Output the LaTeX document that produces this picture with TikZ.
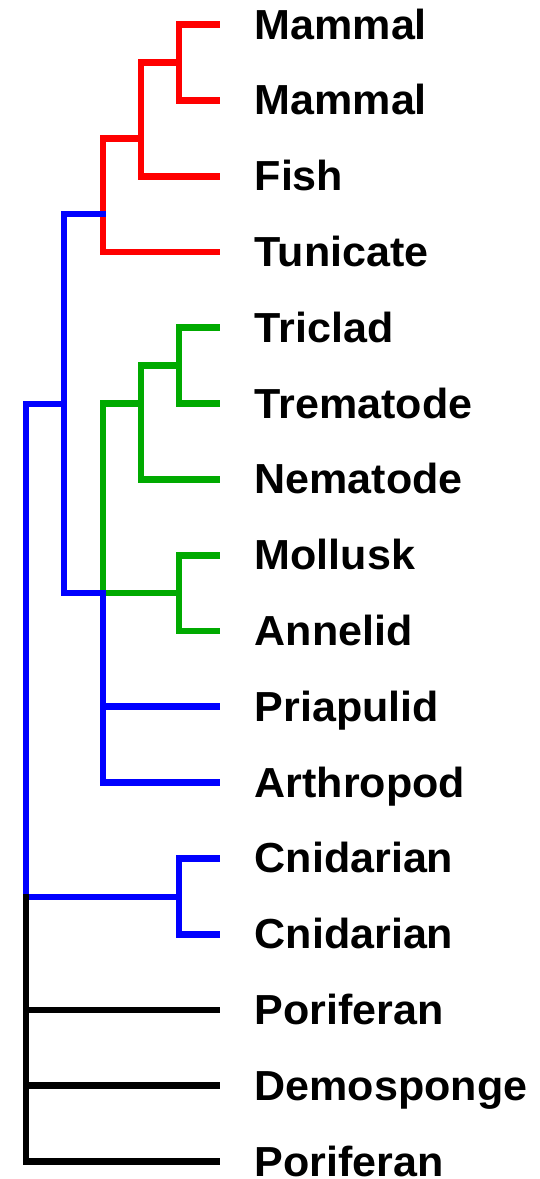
\documentclass[tikz,border=0pt]{standalone}
\usepackage{fontspec}
\newfontfamily\taxonfont{Liberation Sans}[FakeStretch=1.025]
\definecolor{cladeRed}{RGB}{255,0,0}
\definecolor{cladeGreen}{RGB}{0,170,0}
\definecolor{cladeBlue}{RGB}{0,0,255}
\tikzset{
  branch/.style={line width=6.8pt, line cap=rect, line join=miter},
  taxon/.style={anchor=base west, inner sep=0pt, font=\taxonfont\bfseries\fontsize{42}{46}\selectfont},
}
\begin{document}
\begin{tikzpicture}[x=1pt, y=1pt]
\useasboundingbox (0,0) rectangle (540,-1179);

% leaf tips and labels
\foreach \i/\name in {1/Mammal,2/Mammal,3/Fish,4/Tunicate,5/Triclad,6/Trematode,
  7/Nematode,8/Mollusk,9/Annelid,10/Priapulid,11/Arthropod,12/Cnidarian,
  13/Cnidarian,14/Poriferan,15/Demosponge,16/Poriferan}{
  \pgfmathsetmacro{\yy}{24.5+75.8*(\i-1)}
  \coordinate (t\i) at (216.5,-\yy);
  \node[taxon] (n\i) at (254.5,-\yy-14.5) {\name};
}

% internal nodes (attachment points)
\coordinate (r1) at (179,-62.4);
\coordinate (r2) at (141,-138.2);
\coordinate (r3) at (103,-214);
\coordinate (g1) at (179,-365.6);
\coordinate (g2) at (141,-403.5);
\coordinate (g3) at (179,-593);
\coordinate (g4) at (103,-593);
\coordinate (b2) at (103,-593);
\coordinate (b1) at (64,-404);
\coordinate (b3) at (179,-897);
\coordinate (b4) at (26,-897);
\coordinate (root) at (26,-897);

% red clade
\draw[branch, cladeRed] (t1) -| (r1) |- (t2);
\draw[branch, cladeRed] (r1) -| (r2) |- (t3);
\draw[branch, cladeRed] (r2) -| (r3) |- (t4);

% green clade
\draw[branch, cladeGreen] (t5) -| (g1) |- (t6);
\draw[branch, cladeGreen] (g1) -| (g2) |- (t7);
\draw[branch, cladeGreen] (t8) -| (g3) |- (t9);
\draw[branch, cladeGreen] (g2) -| (g4) -- (g3);

% blue clades
\draw[branch, cladeBlue] (b2) |- (t11);
\draw[branch, cladeBlue] (t10) -| (b2);
\draw[branch, cladeBlue] (r3) -| (b1) |- (b2);
\draw[branch, cladeBlue] (t12) -| (b3) |- (t13);
\draw[branch, cladeBlue] (b1) -| (b4) -- (b3);

% root
\draw[branch, black] (root) |- (t16);
\draw[branch, black] (t14) -| (root);
\draw[branch, black] (t15) -| (root);
\end{tikzpicture}
\end{document}
